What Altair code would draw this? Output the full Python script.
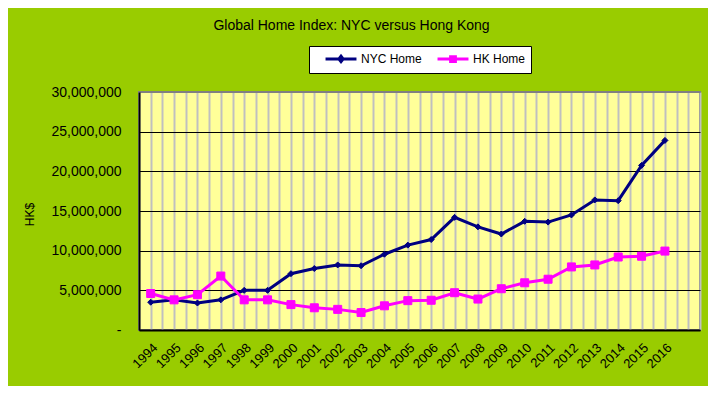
import altair as alt
import pandas as pd

years = list(range(1994, 2017))
nyc_home = [3.5, 3.8, 3.4, 3.8, 5.0, 5.0, 7.1, 7.75, 8.2, 8.1, 9.55, 10.7, 11.4,
            14.2, 13.0, 12.1, 13.7, 13.6, 14.5, 16.4, 16.3, 20.75, 23.9]
hk_home = [4.6, 3.8, 4.45, 6.8, 3.8, 3.8, 3.2, 2.8, 2.6, 2.2, 3.05, 3.7, 3.75,
           4.7, 3.9, 5.2, 5.95, 6.4, 7.95, 8.2, 9.2, 9.3, 9.95]
series_names = ["NYC Home", "HK Home"]
series_colors = ["#000080", "#FF00FF"]
y_ticks = [0, 5000000, 10000000, 15000000, 20000000, 25000000, 30000000]

rows = []
for name, vals in zip(series_names, [nyc_home, hk_home]):
    for yr, v in zip(years, vals):
        rows.append({"year": yr, "value": v * 1e6, "series": name})
df = pd.DataFrame(rows)

x_grid_vals = [1993.5 + 0.5 * i for i in range(49)]

FONT = "Liberation Sans"

x_enc = alt.X(
    "year:Q",
    scale=alt.Scale(domain=[1993.5, 2017.5], nice=False, zero=False),
    axis=alt.Axis(
        values=x_grid_vals,
        labelExpr="(datum.value % 1 === 0 && datum.value <= 2016) ? format(datum.value, 'd') : ''",
        labelAngle=-45, labelAlign="right", labelBaseline="top", labelPadding=11,
        labelOverlap=False, labelFontSize=13, labelColor="black", labelFont=FONT,
        ticks=False, grid=True, gridColor="#C0C0C0", gridWidth=2,
        domainColor="black", domainWidth=2, title=None,
    ),
)
y_enc = alt.Y(
    "value:Q",
    scale=alt.Scale(domain=[0, 30000000], nice=False),
    axis=alt.Axis(
        values=y_ticks,
        labelExpr="datum.value === 0 ? '-\u00a0\u00a0' : format(datum.value, ',')",
        labelPadding=18, labelFontSize=14, labelColor="black", labelFont=FONT,
        ticks=False, grid=True,
        gridColor={"condition": {"test": "datum.value >= 30000000", "value": "#808080"}, "value": "black"},
        gridWidth=1, domainColor="black", domainWidth=2,
        title="HK$", titleFontSize=12, titleFontWeight="normal", titleColor="black",
        titleFont=FONT, titleAngle=-90, titleX=-103, titleY=122, titleBaseline="bottom",
    ),
)

color_scale = alt.Scale(domain=series_names, range=series_colors)

base = alt.Chart(df)

lines = base.mark_line(strokeWidth=3).encode(
    x=x_enc, y=y_enc,
    stroke=alt.Stroke("series:N", scale=color_scale, legend=None),
    detail="series:N",
)

points = base.mark_point(filled=True, opacity=1, strokeWidth=1).encode(
    x=x_enc, y=y_enc,
    fill=alt.Fill("series:N", scale=color_scale, legend=None),
    stroke=alt.Stroke("series:N", scale=color_scale, legend=None),
    shape=alt.Shape("series:N", scale=alt.Scale(domain=series_names, range=["diamond", "square"]), legend=None),
    size=alt.Size("series:N", scale=alt.Scale(domain=series_names, range=[36, 64]), legend=None),
)

leg = alt.Legend(
    orient="none", legendX=170, legendY=-46, direction="horizontal", title=None,
    fillColor="white", strokeColor="black", padding=5,
    symbolSize=144, symbolOpacity=1, symbolStrokeWidth=3,
    labelFontSize=12, labelColor="black", labelFont=FONT, labelOffset=32,
    labelExpr="datum.value === 'HK Home' ? datum.label + '\u00a0\u00a0' : datum.label",
    columnPadding=4,
)
legend_paths = [
    "M0.67,0H5.83M3.25,-0.45L3.6,0L3.25,0.45L2.9,0Z",
    "M0.67,0H5.83M2.85,-0.4H3.65V0.4H2.85Z",
]
legend_layer = base.mark_point(filled=True, opacity=0).encode(
    x=x_enc, y=y_enc,
    fill=alt.Fill("series:N", scale=color_scale, legend=leg),
    stroke=alt.Stroke("series:N", scale=color_scale, legend=leg),
    shape=alt.Shape("series:N", scale=alt.Scale(domain=series_names, range=legend_paths), legend=leg),
)

chart = (
    alt.layer(lines, points, legend_layer)
    .resolve_scale(fill="independent", stroke="independent", shape="independent")
    .properties(
        width=561, height=238,
        padding={"left": 131, "top": 84, "right": 8, "bottom": 56},
        autosize=alt.AutoSizeParams(type="none"),
        title=alt.TitleParams(
            "Global Home Index: NYC versus Hong Kong", fontSize=14, fontWeight="normal",
            color="black", font=FONT, anchor="middle", dx=-68, offset=13,
        ),
    )
    .configure(background="#99CC00", font=FONT)
    .configure_view(fill="#FFFF99", stroke="#808080", strokeWidth=2)
)

chart.save("out.html", embed_options={"renderer": "svg", "actions": False})
